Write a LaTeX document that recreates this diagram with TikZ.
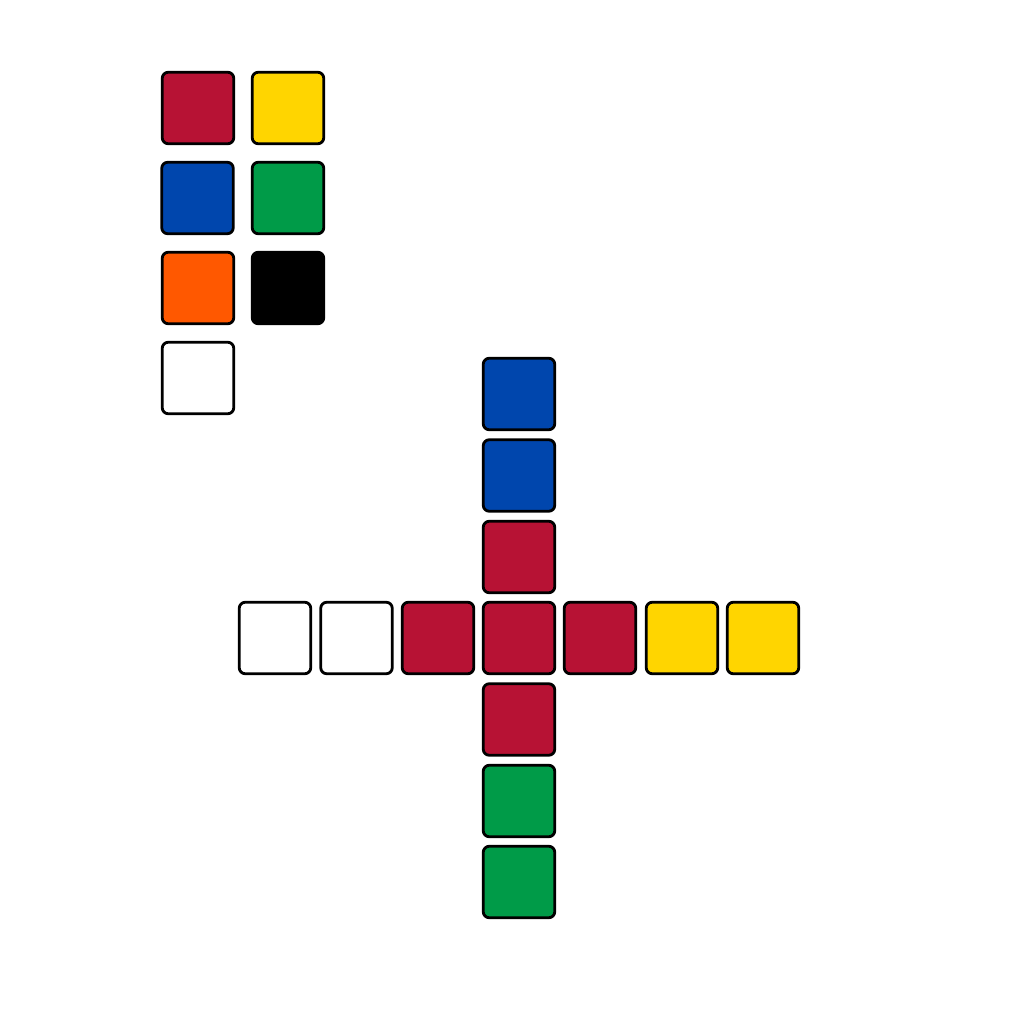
\documentclass[tikz,border=0pt]{standalone}
\definecolor{cred}{HTML}{B71234}
\definecolor{cyellow}{HTML}{FFD500}
\definecolor{cblue}{HTML}{0046AD}
\definecolor{cgreen}{HTML}{009B48}
\definecolor{corange}{HTML}{FF5800}
\tikzset{
  tile/.style={draw=black, line width=2.8pt, rounded corners=6pt, minimum size=71.5pt, inner sep=0pt, fill=#1},
}
\begin{document}
\begin{tikzpicture}[x=1pt,y=-1pt]
\useasboundingbox[fill=white] (0,0) rectangle (1024,1024);
% palette
\node[tile=cred]    (p1) at (198,108) {};
\node[tile=cyellow] (p2) at (288,108) {};
\node[tile=cblue]   (p3) at (197.5,198) {};
\node[tile=cgreen]  (p4) at (288,198) {};
\node[tile=corange] (p5) at (198,288) {};
\node[tile=black]   (p6) at (288,288) {};
\node[tile=white]   (p7) at (198,378) {};
% cross vertical
\node[tile=cblue]  (v1) at (519,394) {};
\node[tile=cblue]  (v2) at (519,475.5) {};
\node[tile=cred]   (v3) at (519,557) {};
\node[tile=cred]   (c)  at (519,638) {};
\node[tile=cred]   (v5) at (519,719.5) {};
\node[tile=cgreen] (v6) at (519,801) {};
\node[tile=cgreen] (v7) at (519,882) {};
% cross horizontal
\node[tile=white]   (h1) at (275,638) {};
\node[tile=white]   (h2) at (356.5,638) {};
\node[tile=cred]    (h3) at (438,638) {};
\node[tile=cred]    (h5) at (600,638) {};
\node[tile=cyellow] (h6) at (682,638) {};
\node[tile=cyellow] (h7) at (763,638) {};
\end{tikzpicture}
\end{document}
